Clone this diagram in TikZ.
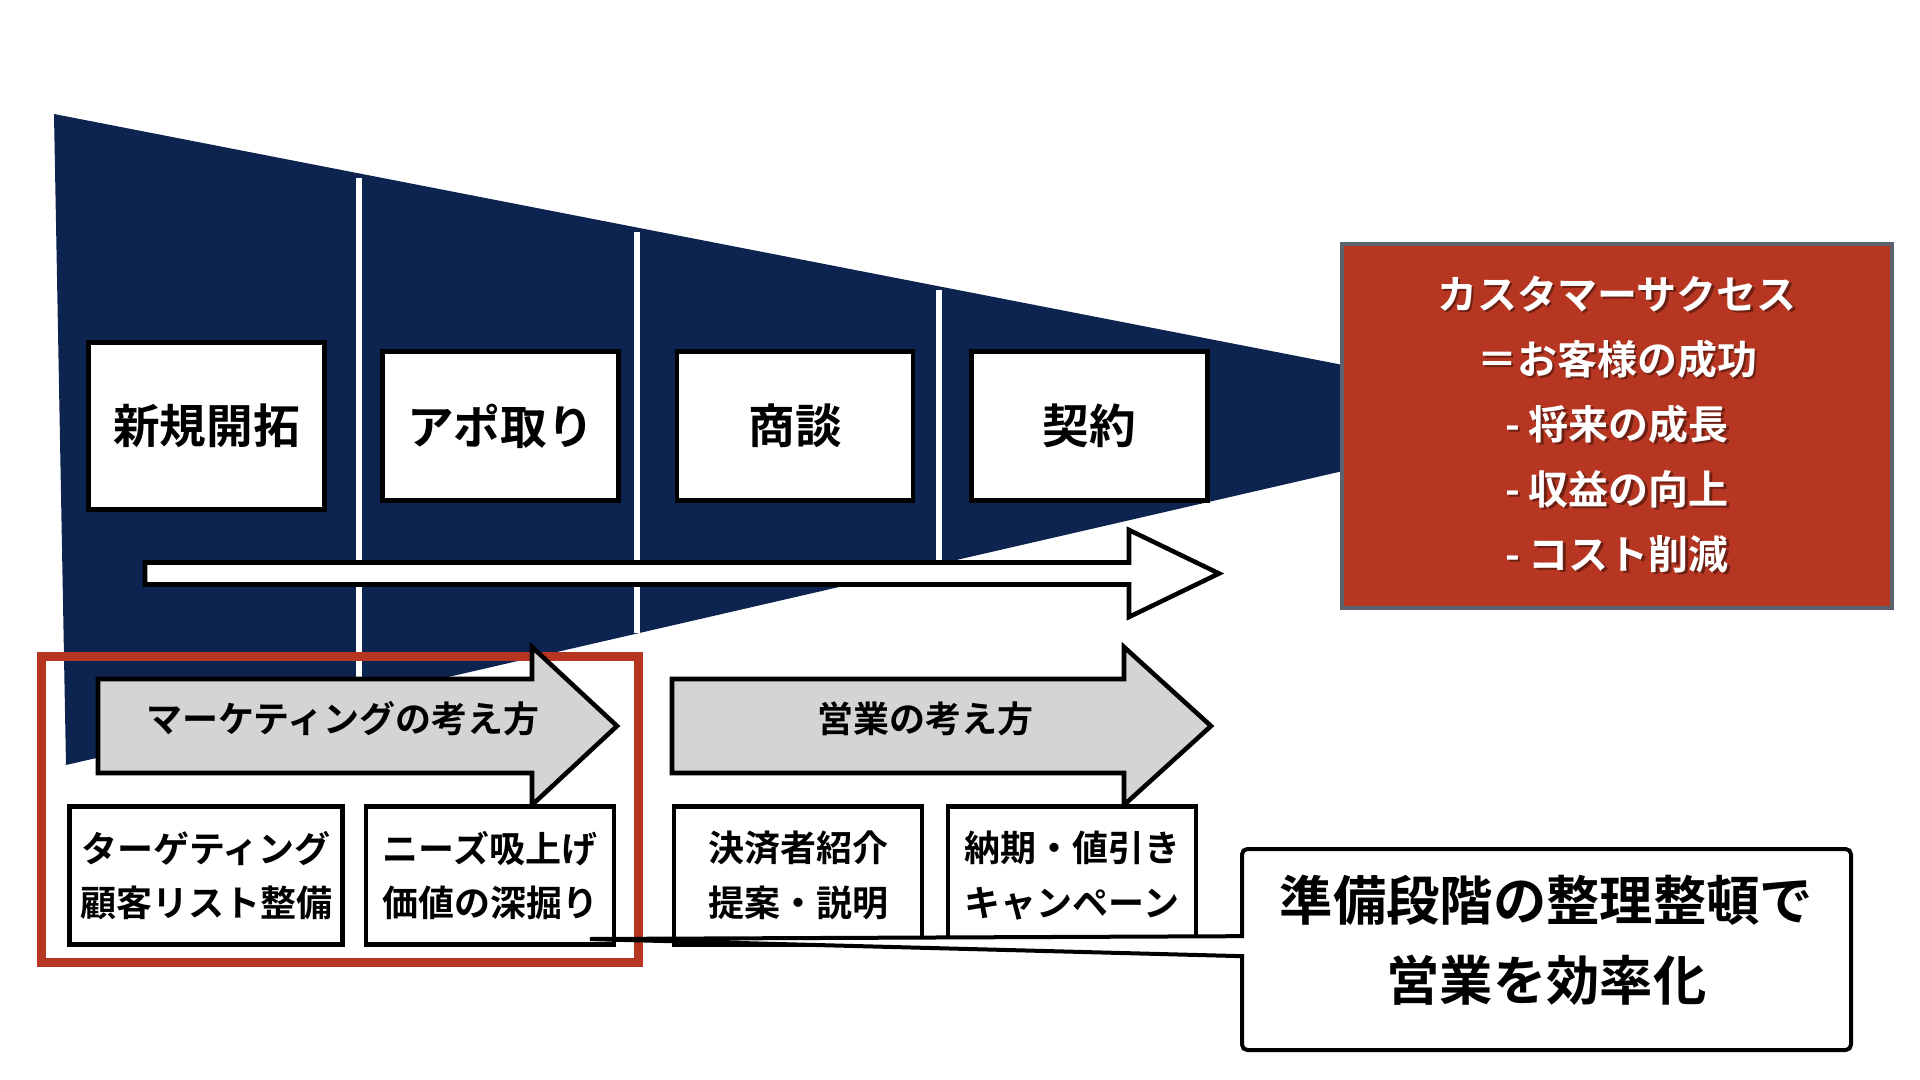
\documentclass[tikz,border=0pt]{standalone}
\usepackage{fontspec}
\setmainfont{Noto Sans CJK JP}[BoldFont={* Bold}]
\usetikzlibrary{shapes.callouts}

\definecolor{funnelnavy}{RGB}{14,36,80}
\definecolor{successred}{RGB}{183,54,33}
\definecolor{successedge}{RGB}{92,99,110}
\definecolor{arrowgray}{RGB}{212,212,212}

\tikzset{
  stagebox/.style={draw=black, line width=3.6pt, fill=white, minimum width=177pt, minimum height=112pt, font=\bfseries\fontsize{35}{42}\selectfont},
  taskbox/.style={draw=black, line width=3.4pt, fill=white, minimum width=186pt, minimum height=103.5pt, align=center, font=\bfseries\fontsize{27}{41}\selectfont},
  blockarrow/.style={draw=black, line width=3.4pt, line join=miter},
  arrowlabel/.style={font=\bfseries\fontsize{27}{32}\selectfont},
  successtext/.style={align=center, font=\bfseries\fontsize{30}{48.75}\selectfont}
}

\begin{document}
\begin{tikzpicture}[x=0.75pt,y=0.75pt,yscale=-1,xscale=1]

\useasboundingbox (0,0) rectangle (1920,1080);

% funnel
\fill [funnelnavy] (54,114) -- (1343,365) -- (1343,471) -- (66,765) -- cycle;

\draw [white, line width=4pt] (359,178) -- (359,697);
\draw [white, line width=4pt] (637,232) -- (637,633);
\draw [white, line width=4pt] (939,290) -- (939,563);

\node [stagebox, minimum height=125pt] (kaitaku) at (206.5,426) {新規開拓};
\node [stagebox] (apo) at (500.5,426) {アポ取り};
\node [stagebox] (shodan) at (795,426) {商談};
\node [stagebox] (keiyaku) at (1089.5,426) {契約};

\draw [blockarrow, fill=white] (145,562.5) -- (1129,562.5) -- (1129,530) -- (1219,573.5) -- (1129,617) -- (1129,584.5) -- (145,584.5) -- cycle;

% customer success
\node [draw=successedge, line width=3pt, fill=successred, minimum width=412.5pt, minimum height=273pt] (success) at (1617,426) {};
\node [successtext, text=black, opacity=0.4] (successshadow) at (1619.5,427) {カスタマーサクセス\\＝お客様の成功\\- 将来の成長\\- 収益の向上\\- コスト削減};
\node [successtext, text=white] (successlabel) at (1617,424.5) {カスタマーサクセス\\＝お客様の成功\\- 将来の成長\\- 収益の向上\\- コスト削減};

\draw [successred, line width=7pt] (41.5,656.5) rectangle (638.5,962.5);

\draw [blockarrow, fill=arrowgray] (98,679) -- (532,679) -- (532,647) -- (617,726) -- (532,805) -- (532,773) -- (98,773) -- cycle;
\node [arrowlabel] (marketing) at (343,719) {マーケティングの考え方};
\draw [blockarrow, fill=arrowgray] (672,679) -- (1124,679) -- (1124,647) -- (1211,726) -- (1124,805) -- (1124,773) -- (672,773) -- cycle;
\node [arrowlabel] (eigyo) at (925,719) {営業の考え方};

\node [taskbox, minimum width=205pt] (target) at (206,875.5) {ターゲティング\\顧客リスト整備};
\node [taskbox] (needs) at (490,875.5) {ニーズ吸上げ\\価値の深掘り};
\node [taskbox] (kessai) at (798,875.5) {決済者紹介\\提案・説明};
\node [taskbox] (nouki) at (1072,875.5) {納期・値引き\\キャンペーン};

% callout
\coordinate (tip) at (587,939);
\node [rectangle callout, draw=black, line width=3pt, fill=white, rounded corners=4pt, callout absolute pointer={(tip)}, callout pointer width=15pt, minimum width=456.75pt, minimum height=150.75pt, align=center, text depth=18pt, font=\bfseries\fontsize{40}{60}\selectfont] (kouritsu) at (1546.5,949.5) {準備段階の整理整頓で\\営業を効率化};

\end{tikzpicture}
\end{document}
